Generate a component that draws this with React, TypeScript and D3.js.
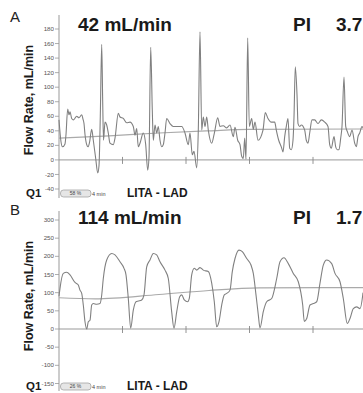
import React from 'react';
import * as d3 from 'd3';

// samples recorded at 63.5 Hz: [sample, flow mL/min]
const SAMPLE_RATE = 63.5;

const flowA: [number, number][] = [
  [0, 55], [2, 25], [3.5, 18], [6, 22], [7, 35], [8.7, 70], [10, 62], [11, 66], [12.7, 57], [14.5, 55],
  [17.7, 60], [20, 58], [22.7, 62], [24, 56], [25, 50], [26, 35], [27.7, 21], [29, 18], [30.5, 24], [32.7, 42],
  [34.3, 27], [36.7, 2], [38.7, -18], [40, -8], [41.3, 60], [42.7, 159], [43.7, 80], [44.5, 27], [46, 52], [47.7, 48],
  [49.3, 37], [51, 23], [54.3, 21], [56, 30], [59.3, 64], [61, 59], [64.3, 57], [67.7, 51], [71, 52], [74.3, 46],
  [76, 34], [77.7, 43], [79.3, 18], [81, 23], [84.3, 37], [86.7, 21], [88.7, -14], [90, 4], [91.7, 155], [93.3, 68],
  [94.3, 27], [96, 48], [97.7, 37], [99.3, 46], [101, 27], [102.7, 18], [104.3, 21], [106, 37], [107.7, 57], [111, 50],
  [114.3, 46], [117.7, 46], [122.7, 46], [126, 37], [129.3, 21], [131, 37], [133.3, 7], [135, 12], [137.7, -11], [139.3, 41],
  [141, 176], [142.7, 41], [144.3, 59], [146, 46], [147.7, 59], [149.3, 41], [152.7, 23], [155.5, 38], [158.7, 58], [161, 46],
  [164.3, 47], [167.7, 44], [171, 48], [174.3, 32], [176, 45], [178.7, 27], [181, 21], [182.7, 5], [184.3, 2], [185.7, 30],
  [187, 1], [188.7, 168], [190.3, 46], [192.7, 57], [194.3, 42], [196, 52], [199, 27], [204, 41], [206.3, 65], [209, 57],
  [212.3, 52], [215.7, 52], [217.3, 41], [219.7, 27], [222.3, 18], [224, 11], [225.7, 32], [227.3, 46], [229, 57], [230.7, 16],
  [232.3, 14], [234, 27], [235, 59], [236.3, 128], [238, 90], [239, 50], [240.7, 46], [242.3, 48], [245.7, 41], [247.3, 27],
  [249, 23], [250.7, 37], [253, 55], [255.7, 55], [259, 50], [262.3, 55], [265.7, 52], [269, 46], [270.7, 21], [272.3, 16],
  [275, 32], [276.7, 18], [278.3, 14], [280, 14], [281.7, 30], [283, 46], [285, 114], [286.7, 46], [288.3, 39], [290.7, 32],
  [293, 41], [295.7, 23], [297.3, 18], [299, 32], [300.7, 37], [303, 46], [304, 44],
];

const meanA: [number, number][] = [[0, 30], [50, 33], [100, 37], [150, 40], [190, 42], [304, 42.5]];

const flowB: [number, number][] = [
  [0, 90], [1, 112], [4.3, 153], [7.7, 156], [11, 149], [16, 128], [19.3, 121], [21, 107], [22.7, 98], [24.3, 66],
  [26, 20], [27.7, 0], [29.3, 20], [31, 24], [32.7, 66], [34.3, 70], [37.7, 68], [41, 70], [42.7, 93], [44.3, 139],
  [47.7, 190], [52.7, 208], [56, 204], [61, 185], [65, 167], [67, 149], [69.3, 84], [71.7, 2], [74.3, 52], [77, 75],
  [79.3, 77], [82.7, 80], [85, 94], [87.7, 171], [91, 190], [94.3, 208], [97.7, 204], [101, 185], [106, 162], [109.3, 139],
  [112.7, 47], [115, 2], [117.7, 47], [120.7, 89], [122.7, 94], [125.3, 80], [128.7, 75], [130.3, 84], [132.7, 149], [135.3, 167],
  [137.7, 162], [141, 169], [144.3, 162], [149.3, 158], [152.7, 126], [155.3, 75], [157.7, 6], [160, 20], [162.7, 66], [165.3, 94],
  [167.7, 98], [171, 107], [173.3, 158], [176, 194], [180, 217], [183.3, 213], [187.7, 194], [192, 176], [194.3, 153], [197, 94],
  [199.3, 39], [201, 3], [204.3, 48], [207.7, 75], [212.7, 84], [217.7, 139], [221, 185], [225, 196], [229.3, 180], [234.3, 153],
  [239.3, 130], [243.7, 66], [245.3, 21], [247.7, 29], [251, 66], [254.3, 70], [257.7, 75], [261, 126], [264.3, 176], [267.7, 190],
  [272.7, 180], [276, 153], [281, 130], [284.3, 84], [288.3, 15], [291, 29], [294.3, 56], [297.7, 61], [301, 56], [303.7, 93],
  [304, 100],
];

const meanB: [number, number][] = [[0, 86], [36, 83], [100, 95], [150, 106], [200, 113], [304, 114]];

const ticksA = [180, 160, 140, 120, 100, 80, 60, 40, 20, 0, -20, -40];
const ticksB = [300, 250, 200, 150, 100, 50, 0, -50, -100, -150];
const timeTicks = [1, 2, 3, 4];

const W = 363;
const H = 393;
const AXIS_X = 59;
const FONT = '"Liberation Sans", Arial, sans-serif';

type PanelProps = {
  letter: string;
  flow: [number, number][];
  mean: [number, number][];
  ticks: number[];
  domain: [number, number];
  range: [number, number];
  axisTop: number;
  axisBottom: number;
  top: number;
  rate: string;
  pi: string;
  pct: string;
  labelY: number;
};

function Panel(p: PanelProps) {
  const x = d3.scaleLinear().domain([0, 304 / SAMPLE_RATE]).range([AXIS_X, W]);
  const y = d3.scaleLinear().domain(p.domain).range(p.range);
  const line = d3.line<[number, number]>()
    .x(d => x(d[0] / SAMPLE_RATE))
    .y(d => y(d[1]))
    .curve(d3.curveMonotoneX);
  const y0 = y(0);
  const bottom = p.axisBottom - 1;

  return (
    <g>
      <text x={10} y={p.top + 21} fontFamily={FONT} fontSize={15} fill="#222">{p.letter}</text>
      <text x={78} y={p.top + 30} fontFamily={FONT} fontWeight="bold" fontSize={19} fill="#1a1a1a">{p.rate}</text>
      <text x={293} y={p.top + 30} fontFamily={FONT} fontWeight="bold" fontSize={19} fill="#1a1a1a">PI</text>
      <text x={336} y={p.top + 30} fontFamily={FONT} fontWeight="bold" fontSize={19} fill="#1a1a1a">{p.pi}</text>

      <text
        transform={`translate(33, ${p.labelY}) rotate(-90)`}
        textAnchor="middle"
        fontFamily={FONT}
        fontWeight="bold"
        fontSize={12.5}
        fill="#1a1a1a"
      >
        Flow Rate, mL/min
      </text>

      <line x1={AXIS_X} x2={AXIS_X} y1={p.axisTop} y2={p.axisBottom} stroke="#999" strokeWidth={1} />
      {p.ticks.map(t => (
        <g key={t}>
          <line x1={AXIS_X - 4} x2={AXIS_X} y1={y(t)} y2={y(t)} stroke="#999" strokeWidth={0.8} />
          <text x={AXIS_X - 5} y={y(t) + 2.1} textAnchor="end" fontFamily={FONT} fontSize={6.2} fill="#555">{t}</text>
        </g>
      ))}

      <line x1={AXIS_X} x2={W} y1={y0} y2={y0} stroke="#999" strokeWidth={1} />
      {timeTicks.map(t => (
        <line key={t} x1={x(t)} x2={x(t)} y1={y0 - 3} y2={y0 + 4} stroke="#888" strokeWidth={0.9} />
      ))}

      <path d={line(p.mean) || ''} fill="none" stroke="#aaaaaa" strokeWidth={1.2} />
      <path d={line(p.flow) || ''} fill="none" stroke="#808080" strokeWidth={1.1} strokeLinejoin="round" />

      <text x={26} y={bottom} fontFamily={FONT} fontWeight="bold" fontSize={11.5} fill="#1a1a1a">Q1</text>
      <rect x={60.5} y={bottom - 7} width={30.5} height={7} rx={3} fill="#e6e6e6" stroke="#999" strokeWidth={0.7} />
      <text x={75.5} y={bottom - 1.8} textAnchor="middle" fontFamily={FONT} fontSize={5} fill="#444">{p.pct}</text>
      <text x={92} y={bottom - 1.5} fontFamily={FONT} fontSize={5.5} fill="#444">4 min</text>
      <text x={127} y={bottom} fontFamily={FONT} fontWeight="bold" fontSize={12} fill="#1a1a1a">LITA - LAD</text>
    </g>
  );
}

export default function App() {
  return (
    <svg
      width={W}
      height={H}
      style={{ position: 'absolute', left: 0, top: 0, background: '#fff' }}
    >
      <Panel
        letter="A"
        flow={flowA}
        mean={meanA}
        ticks={ticksA}
        domain={[-40, 180]}
        range={[189, 29]}
        axisTop={15}
        axisBottom={198}
        top={1}
        rate="42 mL/min"
        pi="3.7"
        pct="58 %"
        labelY={100}
      />
      <Panel
        letter="B"
        flow={flowB}
        mean={meanB}
        ticks={ticksB}
        domain={[-150, 300]}
        range={[383.5, 220]}
        axisTop={211}
        axisBottom={391}
        top={194}
        rate="114 mL/min"
        pi="1.7"
        pct="26 %"
        labelY={296}
      />
    </svg>
  );
}
